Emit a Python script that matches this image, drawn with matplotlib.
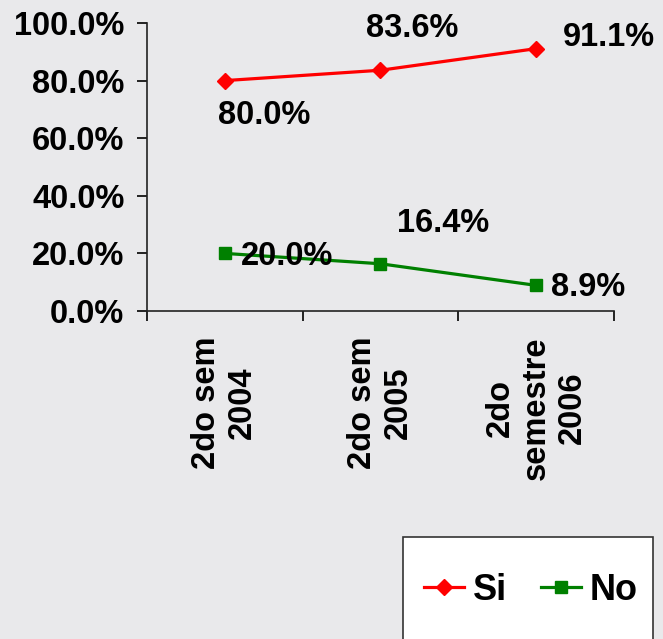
import matplotlib.pyplot as plt
from matplotlib.patches import Rectangle
from matplotlib.ticker import PercentFormatter

plt.rcParams['font.family'] = ['Liberation Sans', 'DejaVu Sans']
plt.rcParams['font.weight'] = 'bold'

# Data
categories = ["2do sem\n2004", "2do sem\n2005", "2do\nsemestre\n2006"]
si = [0.800, 0.836, 0.911]
no = [0.200, 0.164, 0.089]
si_labels = ["80.0%", "83.6%", "91.1%"]
no_labels = ["20.0%", "16.4%", "8.9%"]

# label offsets in pixels
si_offsets = [(39, -35), (32, 42), (73, 11)]
no_offsets = [(62, -3), (63, 40), (52, -2)]

fig = plt.figure(figsize=(6.63, 6.39), dpi=100)
fig.patch.set_facecolor('#e9e9eb')
ax = fig.add_axes([0.2217, 0.5133, 0.7043, 0.4507])
ax.set_facecolor('none')

x = list(range(len(categories)))
ax.plot(x, si, color='#ff0000', lw=2.3, marker='D', ms=8, label='Si')
ax.plot(x, no, color='#008000', lw=2.3, marker='s', ms=9, label='No')

for xi, v, t, off in zip(x, si, si_labels, si_offsets):
    ax.annotate(t, (xi, v), xytext=off, textcoords='offset pixels',
                ha='center', va='center', fontsize=23.5, fontweight='bold')
for xi, v, t, off in zip(x, no, no_labels, no_offsets):
    ax.annotate(t, (xi, v), xytext=off, textcoords='offset pixels',
                ha='center', va='center', fontsize=23.5, fontweight='bold')

ax.set_xlim(-0.5, 2.5)
ax.set_ylim(0, 1.0)
ax.set_yticks([0, 0.2, 0.4, 0.6, 0.8, 1.0])
ax.yaxis.set_major_formatter(PercentFormatter(1.0, decimals=1))
ax.tick_params(axis='y', labelsize=23.5, length=7.2, width=1.2, pad=9)

ax.set_xticks([-0.5, 0.5, 1.5, 2.5])
ax.set_xticklabels([])
ax.set_xticks(x, minor=True)
ax.set_xticklabels(categories, minor=True, rotation=90, va='top', ha='center',
                   multialignment='center', fontsize=23.5)
ax.tick_params(axis='x', which='major', length=7.2, width=1.2)
ax.tick_params(axis='x', which='minor', length=0, pad=18)

for s in ['top', 'right']:
    ax.spines[s].set_visible(False)
for s in ['left', 'bottom']:
    ax.spines[s].set_linewidth(1.2)
    ax.spines[s].set_color('#222222')

# legend box, cut off at the bottom edge
fig.patches.append(Rectangle((403 / 663, -0.05), 250 / 663, 0.05 + 102 / 639,
                             transform=fig.transFigure, facecolor='white',
                             edgecolor='#333333', lw=1.2))
fig.legend(loc='center left', bbox_to_anchor=(406 / 663, 1 - 590 / 639),
           ncol=2, frameon=False, fontsize=26, handlelength=1.1,
           handletextpad=0.25, columnspacing=0.95, borderpad=0)

plt.savefig("out.png", facecolor=fig.get_facecolor())
